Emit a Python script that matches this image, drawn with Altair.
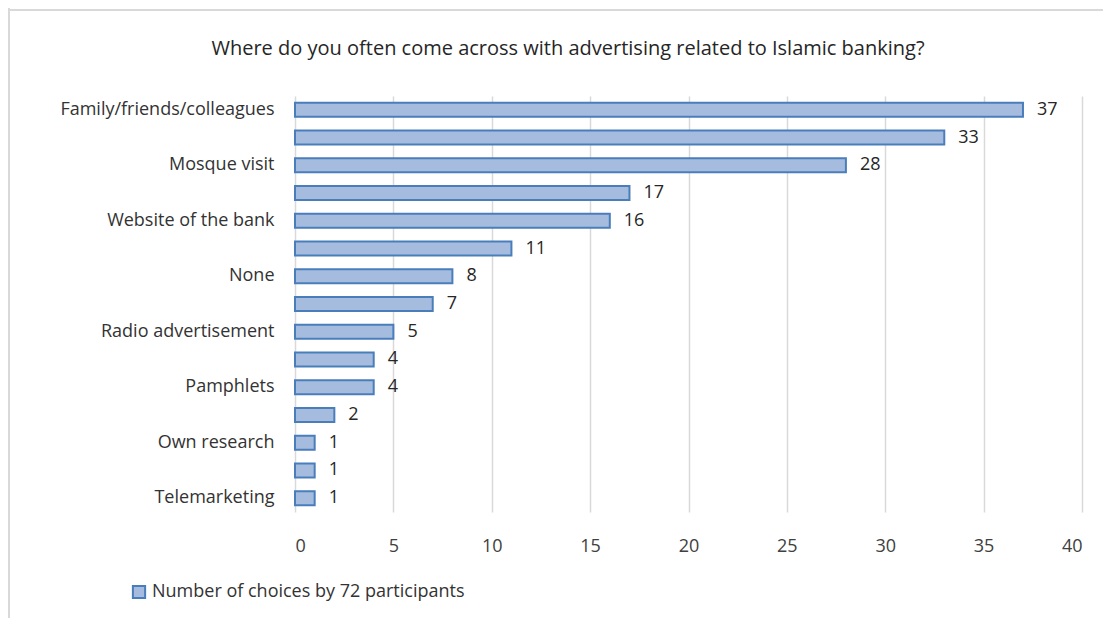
import json
import altair as alt
import pandas as pd

# Data (every other category label is hidden in the original)
labels = [
    "Family/friends/colleagues", "", "Mosque visit", "", "Website of the bank",
    "", "None", "", "Radio advertisement", "", "Pamphlets", "", "Own research",
    "", "Telemarketing",
]
values = [37, 33, 28, 17, 16, 11, 8, 7, 5, 4, 4, 2, 1, 1, 1]
series_name = "Number of choices by 72 participants"
title_text = "Where do you often come across with advertising related to Islamic banking?"

df = pd.DataFrame({
    "idx": list(range(len(values))),
    "value": values,
    "series": [series_name] * len(values),
})

FONT = "Open Sans"
FS = 18
label_expr = json.dumps(labels) + "[datum.value]"

y_enc = alt.Y("idx:O", axis=alt.Axis(
    title=None, labelExpr=label_expr, domain=False, ticks=False, grid=False,
    labelFontSize=FS, labelColor="#333333", labelFont=FONT, labelPadding=21,
    labelLimit=400,
))

bars = alt.Chart(df).mark_bar(
    height=14, stroke="#4a7ebb", strokeWidth=2,
).encode(
    x=alt.X("value:Q", scale=alt.Scale(domain=[0, 40]), axis=alt.Axis(
        title=None, values=[0, 5, 10, 15, 20, 25, 30, 35, 40], domain=False, ticks=False,
        grid=True, gridColor="#d9d9d9", gridWidth=1.5, labelFontSize=FS,
        labelColor="#404040", labelFont=FONT, labelPadding=25,
    )),
    y=y_enc,
    color=alt.Color("series:N", scale=alt.Scale(range=["#a5bcdf"]), legend=alt.Legend(
        title=None, orient="none", legendX=-165, legendY=487, symbolType="square",
        symbolSize=150, symbolStrokeColor="#4a7ebb", symbolStrokeWidth=2,
        labelFontSize=FS, labelFont=FONT, labelColor="#333333", labelLimit=500,
    )),
)

text = alt.Chart(df).mark_text(
    align="left", baseline="middle", dx=14, fontSize=FS, font=FONT, color="#262626",
).encode(
    x="value:Q", y=alt.Y("idx:O"), text="value:Q",
)

frame_data = alt.Data(values=[{"t": title_text}])
title_mark = alt.Chart(frame_data).mark_text(
    align="center", baseline="middle", fontSize=20, font=FONT, color="#262626",
).encode(
    x=alt.value(273), y=alt.value(-47), text="t:N",
)
left_border = alt.Chart(frame_data).mark_rule(color="#d9d9d9", strokeWidth=2).encode(
    x=alt.value(-286), y=alt.value(-88), y2=alt.value(600),
)
top_border = alt.Chart(frame_data).mark_rule(color="#d9d9d9", strokeWidth=2).encode(
    y=alt.value(-86), x=alt.value(-287), x2=alt.value(900),
)

chart = alt.layer(bars, text, title_mark, left_border, top_border).properties(
    width=787, height=416,
    autosize=alt.AutoSizeParams(type="none"),
    padding={"left": 287, "top": 88, "right": 21, "bottom": 106},
).configure(background="white").configure_view(stroke=None)

chart.save("out.html", embed_options={"renderer": "svg", "actions": False})
